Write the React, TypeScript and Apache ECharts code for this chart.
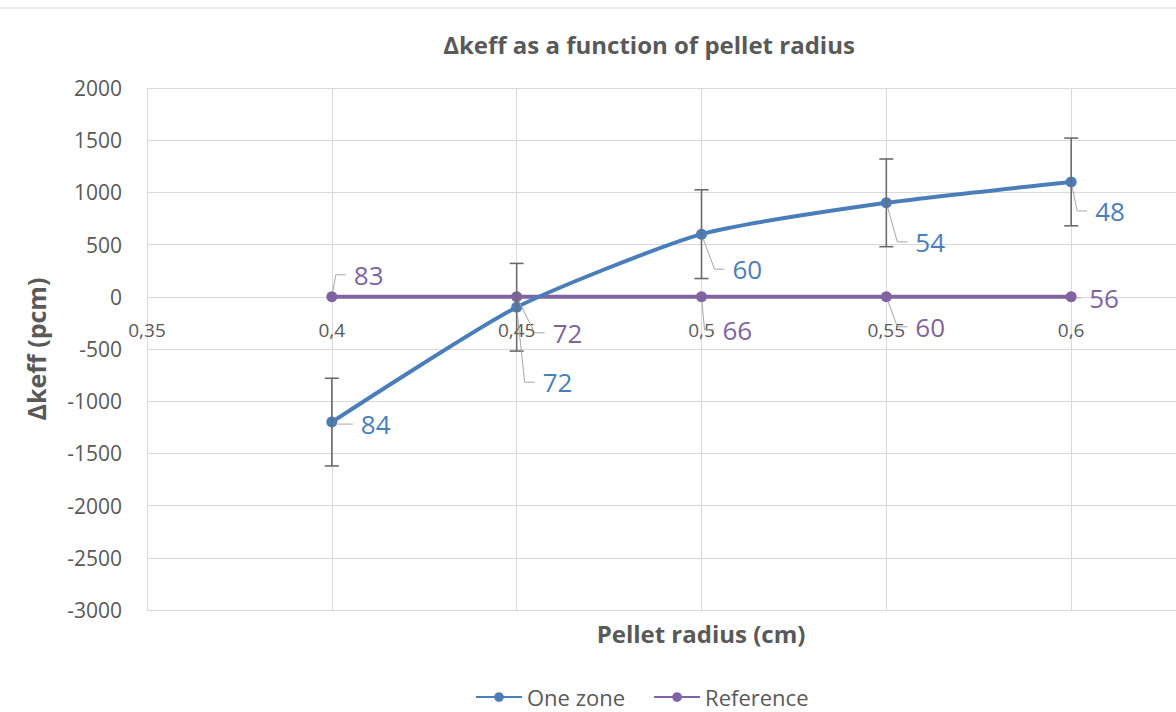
import React, { useEffect, useRef } from "react";
import * as echarts from "echarts";

const radii = [0.4, 0.45, 0.5, 0.55, 0.6];
const oneZone = [-1200, -100, 600, 900, 1100];
const oneZoneError = [420, 420, 425, 420, 420];
const reference = [0, 0, 0, 0, 0];
const oneZoneLabels = ["84", "72", "60", "54", "48"];
const referenceLabels = ["83", "72", "66", "60", "56"];
const xTicks = { min: 0.35, max: 0.65, interval: 0.05 };
const yTicks = { min: -3000, max: 2000, interval: 500 };

// label placement styles (pixel offsets of label's left-middle from its point)
const oneZoneLabelOffsets = [[29, 2], [26, 75], [31, 35], [29, 39], [24, 29]];
const referenceLabelOffsets = [[22, -22], [36, 36], [21, 33], [29, 30], [18, 1]];

const FONT = "'Open Sans', 'Noto Sans', sans-serif";
const BLUE = "#4a7ebb";
const PURPLE = "#8064a2";
const TEXT = "#595959";
const GRID = "#d9d9d9";
const CHART_W = 1300;

function labelSeries(name: string, ys: number[], labels: string[], offsets: number[][], color: string) {
  return {
    name: name + " labels",
    type: "custom",
    z: 5,
    silent: true,
    data: radii.map((x, i) => [x, ys[i], i]),
    renderItem: (params: any, api: any) => {
      const i = params.dataIndex;
      const p = api.coord([api.value(0), api.value(1)]);
      const [dx, dy] = offsets[i];
      const endX = p[0] + dx - 8;
      const endY = p[1] + dy;
      let pts: number[][];
      if (Math.abs(dy) < 5) {
        pts = [[p[0] + 6, endY], [endX, endY]];
      } else {
        const elbowX = p[0] + dx - 18;
        const vx = elbowX - p[0];
        const vy = endY - p[1];
        const len = Math.sqrt(vx * vx + vy * vy);
        pts = [[p[0] + (vx / len) * 5, p[1] + (vy / len) * 5], [elbowX, endY], [endX, endY]];
      }
      return {
        type: "group",
        children: [
          { type: "polyline", shape: { points: pts }, style: { stroke: "#a6a6a6", lineWidth: 1, fill: null } },
          {
            type: "text",
            x: p[0] + dx,
            y: p[1] + dy,
            style: {
              text: labels[i],
              fill: color,
              fontSize: 26,
              fontFamily: FONT,
              align: "left",
              verticalAlign: "middle",
            },
          },
        ],
      };
    },
  };
}

export default function App() {
  const ref = useRef<HTMLDivElement>(null);
  useEffect(() => {
    const chart = echarts.init(ref.current!, null, { renderer: "svg" });
    const fmt = (v: number) => String(Math.round(v * 100) / 100).replace(".", ",");
    chart.setOption({
      animation: false,
      backgroundColor: "#ffffff",
      textStyle: { fontFamily: FONT },
      graphic: [
        { type: "line", shape: { x1: 0, y1: 8, x2: CHART_W, y2: 8 }, style: { stroke: GRID, lineWidth: 1 } },
        {
          type: "text",
          x: 649,
          y: 44,
          style: {
            text: "Δkeff as a function of pellet radius",
            fill: TEXT,
            fontSize: 24,
            fontWeight: "bold",
            fontFamily: FONT,
            align: "center",
            verticalAlign: "middle",
          },
        },
        {
          type: "text",
          x: 701,
          y: 633,
          style: {
            text: "Pellet radius (cm)",
            fill: TEXT,
            fontSize: 24,
            fontWeight: "bold",
            fontFamily: FONT,
            align: "center",
            verticalAlign: "middle",
          },
        },
      ],
      legend: {
        data: ["One zone", "Reference"],
        left: 470,
        top: 681,
        itemWidth: 46,
        itemHeight: 12,
        itemGap: 28,
        textStyle: { color: TEXT, fontSize: 22, fontFamily: FONT, lineHeight: 22 },
      },
      grid: { left: 147, right: CHART_W - 1256, top: 88, bottom: 102, containLabel: false },
      xAxis: {
        type: "value",
        min: xTicks.min,
        max: xTicks.max,
        interval: xTicks.interval,
        offset: -313,
        axisLine: { onZero: false, lineStyle: { color: GRID, width: 1 } },
        axisTick: { show: false },
        axisLabel: {
          formatter: fmt,
          color: TEXT,
          fontSize: 19,
          margin: 23,
          fontFamily: FONT,
          showMinLabel: true,
          showMaxLabel: false,
        },
        splitLine: { show: true, lineStyle: { color: GRID, width: 1 } },
      },
      yAxis: {
        type: "value",
        min: yTicks.min,
        max: yTicks.max,
        interval: yTicks.interval,
        name: "Δkeff (pcm)",
        nameLocation: "middle",
        nameRotate: 90,
        nameGap: 99,
        nameTextStyle: { color: TEXT, fontSize: 25, fontWeight: "bold", fontFamily: FONT },
        axisLine: { show: true, lineStyle: { color: GRID, width: 1 } },
        axisTick: { show: false },
        axisLabel: { formatter: (v: number) => String(v), color: TEXT, fontSize: 21, margin: 25, fontFamily: FONT },
        splitLine: { show: true, lineStyle: { color: GRID, width: 1 } },
      },
      series: [
        {
          name: "Reference",
          type: "line",
          data: radii.map((x, i) => [x, reference[i]]),
          symbol: "circle",
          symbolSize: 11,
          itemStyle: { color: PURPLE },
          lineStyle: { color: PURPLE, width: 4 },
          z: 2,
        },
        {
          name: "One zone",
          type: "line",
          smooth: 0.2,
          data: radii.map((x, i) => [x, oneZone[i]]),
          symbol: "circle",
          symbolSize: 11,
          itemStyle: { color: BLUE },
          lineStyle: { color: BLUE, width: 4 },
          z: 3,
        },
        {
          name: "One zone error",
          type: "custom",
          z: 4,
          silent: true,
          data: radii.map((x, i) => [x, oneZone[i] - oneZoneError[i], oneZone[i] + oneZoneError[i]]),
          renderItem: (params: any, api: any) => {
            const lo = api.coord([api.value(0), api.value(1)]);
            const hi = api.coord([api.value(0), api.value(2)]);
            const cap = 7;
            const style = { stroke: "#6b6b6b", lineWidth: 1.6 };
            return {
              type: "group",
              children: [
                { type: "line", shape: { x1: lo[0], y1: lo[1], x2: hi[0], y2: hi[1] }, style },
                { type: "line", shape: { x1: lo[0] - cap, y1: lo[1], x2: lo[0] + cap, y2: lo[1] }, style },
                { type: "line", shape: { x1: hi[0] - cap, y1: hi[1], x2: hi[0] + cap, y2: hi[1] }, style },
              ],
            };
          },
        },
        labelSeries("One zone", oneZone, oneZoneLabels, oneZoneLabelOffsets, BLUE),
        labelSeries("Reference", reference, referenceLabels, referenceLabelOffsets, PURPLE),
      ],
    });
    return () => chart.dispose();
  }, []);
  return <div ref={ref} style={{ position: "fixed", left: 0, top: 0, width: CHART_W, height: 712 }} />;
}
